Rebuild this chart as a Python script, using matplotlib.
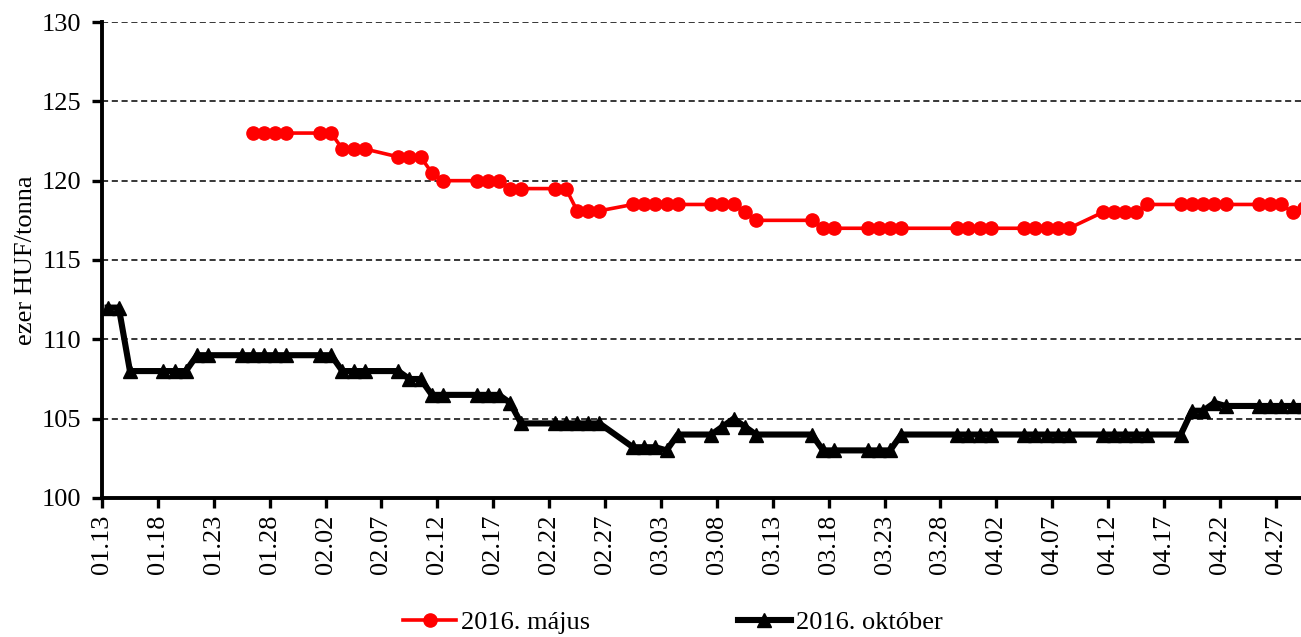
import numpy as np
import pandas as pd
import matplotlib
matplotlib.use("Agg")
import matplotlib.pyplot as plt

plt.rcParams['font.family'] = ['Liberation Serif', 'DejaVu Serif']

# ---- adatok (kereskedési napok, ezer HUF/tonna) ----
datum_majus = [
    "01.26", "01.27", "01.28", "01.29",
    "02.01", "02.02", "02.03", "02.04", "02.05",
    "02.08", "02.09", "02.10", "02.11", "02.12",
    "02.15", "02.16", "02.17", "02.18", "02.19",
    "02.22", "02.23", "02.24", "02.25", "02.26",
    "02.29", "03.01", "03.02", "03.03", "03.04",
    "03.07", "03.08", "03.09", "03.10", "03.11",
    "03.16", "03.17", "03.18",
    "03.21", "03.22", "03.23", "03.24",
    "03.29", "03.30", "03.31", "04.01",
    "04.04", "04.05", "04.06", "04.07", "04.08",
    "04.11", "04.12", "04.13", "04.14", "04.15",
    "04.18", "04.19", "04.20", "04.21", "04.22",
    "04.25", "04.26", "04.27", "04.28", "04.29",
]
ar_majus = [
    123, 123, 123, 123,
    123, 123, 122, 122, 122,
    121.5, 121.5, 121.5, 120.5, 120,
    120, 120, 120, 119.5, 119.5,
    119.5, 119.5, 118.1, 118.1, 118.1,
    118.5, 118.5, 118.5, 118.5, 118.5,
    118.5, 118.5, 118.5, 118, 117.5,
    117.5, 117, 117,
    117, 117, 117, 117,
    117, 117, 117, 117,
    117, 117, 117, 117, 117,
    118, 118, 118, 118, 118.5,
    118.5, 118.5, 118.5, 118.5, 118.5,
    118.5, 118.5, 118.5, 118, 118.3,
]

datum_oktober = [
    "01.13", "01.14", "01.15",
    "01.18", "01.19", "01.20", "01.21", "01.22",
    "01.25", "01.26", "01.27", "01.28", "01.29",
] + datum_majus[4:]
ar_oktober = [
    112, 112, 108,
    108, 108, 108, 109, 109,
    109, 109, 109, 109, 109,
    109, 109, 108, 108, 108,
    108, 107.5, 107.5, 106.5, 106.5,
    106.5, 106.5, 106.5, 106, 104.7,
    104.7, 104.7, 104.7, 104.7, 104.7,
    103.2, 103.2, 103.2, 103, 104,
    104, 104.5, 105, 104.5, 104,
    104, 103, 103,
    103, 103, 103, 104,
    104, 104, 104, 104,
    104, 104, 104, 104, 104,
    104, 104, 104, 104, 104,
    104, 105.5, 105.5, 106, 105.8,
    105.8, 105.8, 105.8, 105.8, 105.8,
]

tick_cimkek = ["01.13", "01.18", "01.23", "01.28", "02.02", "02.07", "02.12",
               "02.17", "02.22", "02.27", "03.03", "03.08", "03.13", "03.18",
               "03.23", "03.28", "04.02", "04.07", "04.12", "04.17", "04.22",
               "04.27"]

start = pd.Timestamp("2016-01-13")


def napok(lista):
    d = pd.to_datetime(["2016." + s for s in lista], format="%Y.%m.%d")
    return np.asarray((d - start).days, dtype=float)


fig = plt.figure(figsize=(13.01, 6.37), dpi=100)
ax = fig.add_axes([102 / 1301, 1 - 498 / 637, 1 - 102 / 1301, (498 - 22) / 637])

# pontok a nap közepén (Excel: tengely a jelölők között)
ax.plot(napok(datum_majus) + 0.5, ar_majus, color='#ff0000', lw=2.6,
        marker='o', markersize=9.5, label='2016. május', clip_on=False, zorder=3)
ax.plot(napok(datum_oktober) + 0.5, ar_oktober, color='black', lw=4.4,
        marker='^', markersize=9.5, label='2016. október', clip_on=False, zorder=3)

ax.set_ylim(100, 130)
ax.set_yticks(np.arange(100, 131, 5))
ax.set_xlim(0, 107.25)
ax.set_xticks(napok(tick_cimkek))
ax.set_xticklabels(tick_cimkek, rotation=90)

ax.yaxis.grid(True, color='black', linestyle=(0, (4, 2.4)), linewidth=1.1)
ax.set_axisbelow(True)
for s in ['top', 'right']:
    ax.spines[s].set_visible(False)
for s in ['left', 'bottom']:
    ax.spines[s].set_linewidth(2.8)

ax.tick_params(axis='y', labelsize=19, width=2.4, length=7, direction='out', pad=8)
ax.tick_params(axis='x', labelsize=19, width=2.4, length=7, direction='out', pad=5)
ax.set_ylabel('ezer HUF/tonna', fontsize=19, labelpad=3)

fig.legend(loc='center', bbox_to_anchor=(673 / 1301, 1 - 622 / 637), ncol=2,
           frameon=False, fontsize=19, handlelength=2.0, handletextpad=0.2,
           columnspacing=5.6)

fig.savefig('out.png', dpi=100)
